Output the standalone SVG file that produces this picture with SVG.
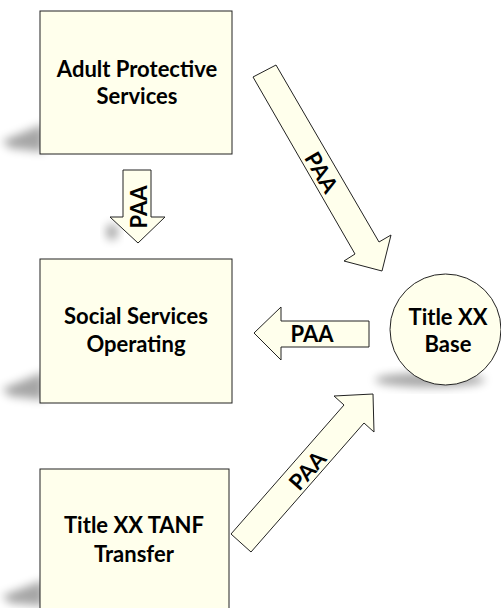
<svg xmlns="http://www.w3.org/2000/svg" width="501" height="608" viewBox="0 0 501 608">
<style>
.shape{fill:#FFFFEC;stroke:#222;stroke-width:1}
.lbl{font-family:Lato,"Liberation Sans",sans-serif;font-weight:700;font-size:22px;fill:#000;text-anchor:middle}
.shadow{fill:#000;opacity:0.35;filter:url(#blur)}
</style>
<defs>
<filter id="blur" x="-50%" y="-50%" width="200%" height="200%"><feGaussianBlur stdDeviation="5"/></filter>
</defs>
<g id="shadows">
<polygon class="shadow" points="44,124 44,152 10,148 2,141"/>
<polygon class="shadow" points="44,372 44,400 10,396 2,389"/>
<polygon class="shadow" points="44,580 44,606 10,603 2,596"/>
<ellipse class="shadow" cx="430" cy="380" rx="55" ry="7"/>
<ellipse class="shadow" cx="112" cy="232" rx="6" ry="8" opacity="0.15"/>
</g>
<g id="connectors">
<g id="arrow-aps-sso">
<polygon class="shape" points="123,170 151,170 151,217 165,217 138,243 110,217 123,217"/>
<text class="lbl" transform="translate(138,207) rotate(-90)" dominant-baseline="central">PAA</text>
</g>
<g id="arrow-aps-base">
<polygon class="shape" points="276,65 379,242 391,235 382,271 344,261 355,254 253,77"/>
<text class="lbl" transform="translate(322,172) rotate(59.6)" dominant-baseline="central">PAA</text>
</g>
<g id="arrow-base-sso">
<polygon class="shape" points="369,321 369,347 281,347 281,360 254,333 281,307 281,321"/>
<text class="lbl" x="312" y="342">PAA</text>
</g>
<g id="arrow-tanf-base">
<polygon class="shape" points="231,534 344,405 334,396 373,394 374,432 364,423 251,552"/>
<text class="lbl" transform="translate(307,470) rotate(-48.8)" dominant-baseline="central">PAA</text>
</g>
</g>
<g id="node-aps">
<rect class="shape" x="40" y="11" width="192" height="143"/>
<text class="lbl" x="137" y="77">Adult Protective</text>
<text class="lbl" x="137" y="104">Services</text>
</g>
<g id="node-sso">
<rect class="shape" x="40" y="259" width="192" height="144"/>
<text class="lbl" x="136" y="324">Social Services</text>
<text class="lbl" x="136" y="352">Operating</text>
</g>
<g id="node-tanf">
<rect class="shape" x="40" y="469" width="189" height="145"/>
<text class="lbl" x="134" y="533">Title XX TANF</text>
<text class="lbl" x="134" y="562">Transfer</text>
</g>
<g id="node-base">
<circle class="shape" cx="445.5" cy="329.5" r="55.5"/>
<text class="lbl" x="448" y="325">Title XX</text>
<text class="lbl" x="448" y="352">Base</text>
</g>
</svg>
